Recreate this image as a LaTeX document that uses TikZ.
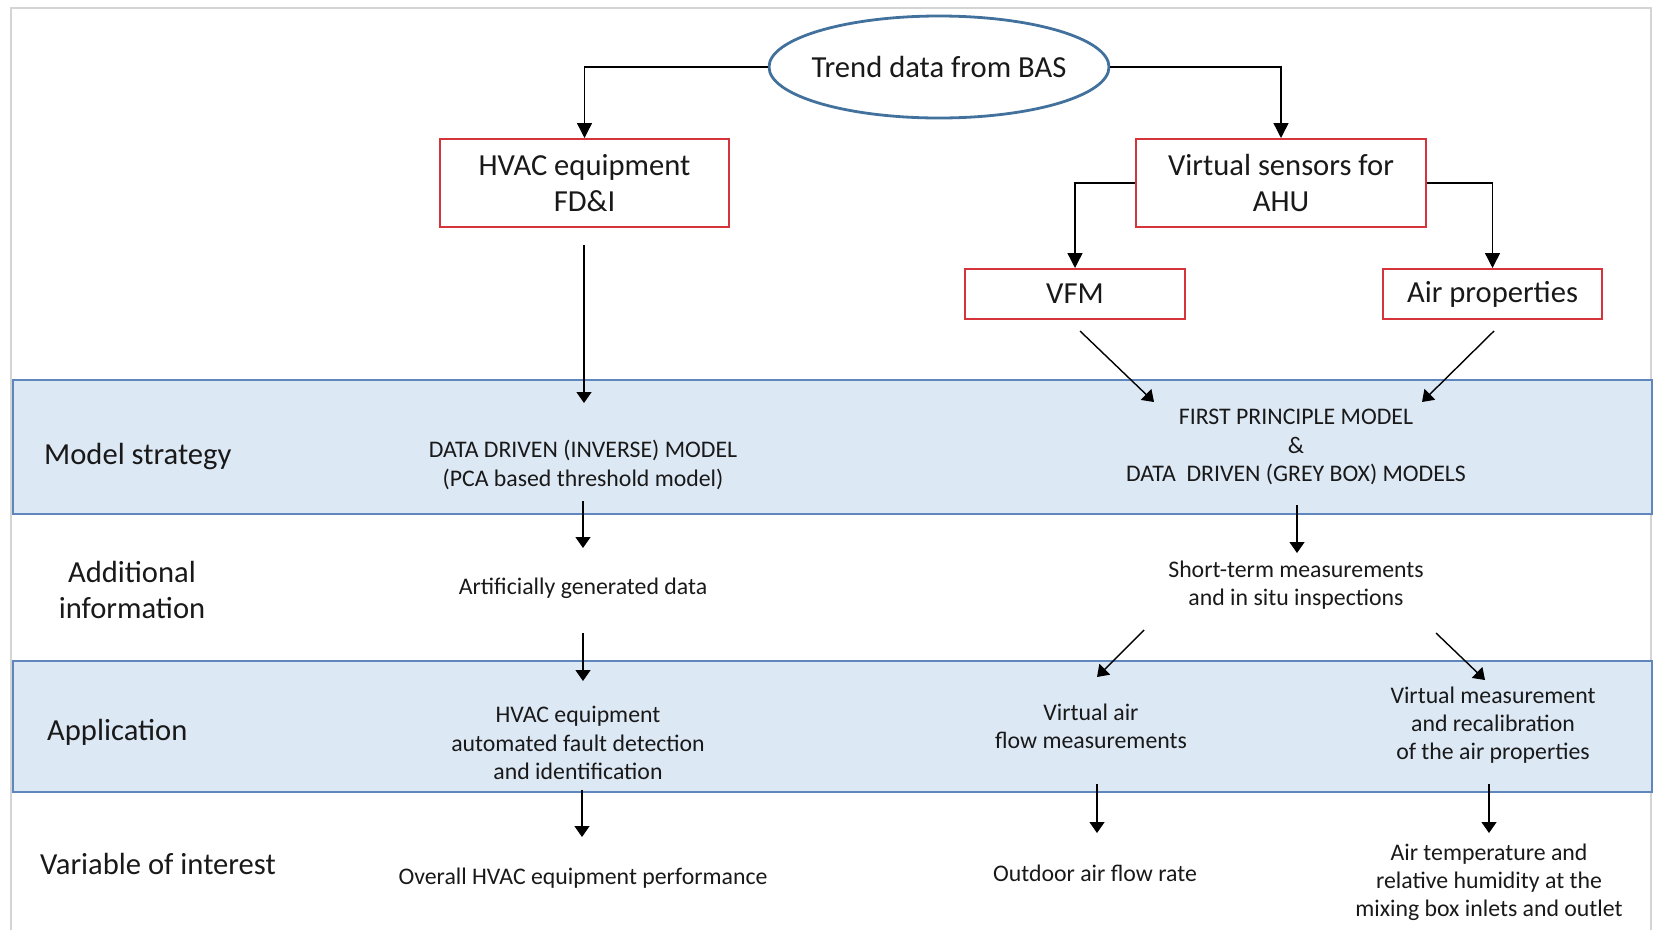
\documentclass[tikz,border=0pt]{standalone}
\usepackage{fontspec}
\setmainfont{Carlito}
\usetikzlibrary{shapes.geometric,arrows.meta}

\definecolor{boxred}{RGB}{212,52,58}
\definecolor{ovalblue}{RGB}{65,113,156}
\definecolor{bandfill}{RGB}{221,232,245}
\definecolor{bandline}{RGB}{95,135,190}
\definecolor{framegray}{RGB}{212,212,212}
\definecolor{ink}{RGB}{25,25,25}

\tikzset{
  bigtxt/.style={font=\fontsize{30.6}{36.5}\selectfont, text=ink, inner sep=0pt},
  smalltxt/.style={font=\fontsize{23.8}{28.2}\selectfont, text=ink, inner sep=0pt, align=center},
  redbox/.style={draw=boxred, line width=2pt, bigtxt, align=center},
  oval/.style={ellipse, draw=ovalblue, line width=2.8pt, bigtxt, inner xsep=-8pt},
  band/.style={fill=bandfill, draw=bandline, line width=1.5pt},
  arr/.style={draw=black, line width=1.4pt, -{Triangle[length=11pt,width=15pt]}},
  toparr/.style={draw=black, line width=1.4pt, -{Triangle[length=15pt,width=15pt]}},
}

\begin{document}
\begin{tikzpicture}[x=1pt, y=-1pt]
\useasboundingbox (0,0) rectangle (1654,930);

% outer frame
\draw[framegray, line width=1.5pt] (11,930) -- (11,8) -- (1651,8) -- (1651,930);

% horizontal bands
\draw[band] (13,380) rectangle (1652,514);
\draw[band] (13,661) rectangle (1652,792);

% top part: source and split
\node[oval, minimum width=340pt, minimum height=102pt] (bas) at (939,67) {Trend data from BAS};
\node[redbox, minimum width=289pt, minimum height=88pt] (hvac) at (584.5,183) {HVAC equipment\\FD\&I};
\node[redbox, minimum width=290pt, minimum height=88pt] (vs) at (1281,183) {Virtual sensors for\\AHU};
\node[redbox, minimum width=220pt, minimum height=50pt] (vfm) at (1075,294) {VFM};
\node[redbox, minimum width=219pt, minimum height=50pt] (air) at (1492.5,294) {Air properties};

\draw[toparr] (bas.west) -| (hvac.north);
\draw[toparr] (bas.east) -| (vs.north);
\draw[toparr] (vs.west) -| (vfm.north);
\draw[toparr] (vs.east) -| (air.north);

% row labels
\node[bigtxt, anchor=west] (lms) at (44,456) {Model strategy};
\node[bigtxt, align=center] (lai) at (132,590) {Additional\\information};
\node[bigtxt, anchor=west] (lapp) at (47,732) {Application};
\node[bigtxt, anchor=west] (lvoi) at (40,864) {Variable of interest};

% model strategy row
\node[smalltxt] (ddm) at (583,465) {DATA DRIVEN (INVERSE) MODEL\\(PCA based threshold model)};
\node[smalltxt] (fpm) at (1296,447) {FIRST PRINCIPLE MODEL\\\&\\DATA\ \ DRIVEN (GREY BOX) MODELS};

% additional information row
\node[smalltxt] (agd) at (583,588) {Artificially generated data};
\node[smalltxt] (stm) at (1296,585) {Short-term measurements\\and in situ inspections};

% application row
\node[smalltxt] (happ) at (578,743) {HVAC equipment\\automated fault detection\\and identification};
\node[smalltxt] (vaf) at (1091,726) {Virtual air\\flow measurements};
\node[smalltxt] (vmr) at (1493,725) {Virtual measurement\\and recalibration\\of the air properties};

% variable of interest row
\node[smalltxt] (ovr) at (583,878) {Overall HVAC equipment performance};
\node[smalltxt] (oaf) at (1095,873) {Outdoor air flow rate};
\node[smalltxt] (atr) at (1489,882) {Air temperature and\\relative humidity at the\\mixing box inlets and outlet};

% connector end points
\coordinate (h1) at (584,245);   \coordinate (h2) at (584,403);
\coordinate (v1) at (1080,331);  \coordinate (v2) at (1154,402);
\coordinate (a1) at (1494,331);  \coordinate (a2) at (1422,402);
\coordinate (d1) at (583,501);   \coordinate (d2) at (583,548);
\coordinate (f1) at (1297,505);  \coordinate (f2) at (1297,553);
\coordinate (g1) at (583,633);   \coordinate (g2) at (583,681);
\coordinate (s1) at (1144,630);  \coordinate (s2) at (1097,677);
\coordinate (s3) at (1436,633);  \coordinate (s4) at (1485,680);
\coordinate (p1) at (582,790);   \coordinate (p2) at (582,837);
\coordinate (q1) at (1097,784);  \coordinate (q2) at (1097,833);
\coordinate (r1) at (1489,784);  \coordinate (r2) at (1489,833);

\draw[arr] (h1) -- (h2);
\draw[arr] (v1) -- (v2);
\draw[arr] (a1) -- (a2);
\draw[arr] (d1) -- (d2);
\draw[arr] (f1) -- (f2);
\draw[arr] (g1) -- (g2);
\draw[arr] (s1) -- (s2);
\draw[arr] (s3) -- (s4);
\draw[arr] (p1) -- (p2);
\draw[arr] (q1) -- (q2);
\draw[arr] (r1) -- (r2);
\end{tikzpicture}
\end{document}
